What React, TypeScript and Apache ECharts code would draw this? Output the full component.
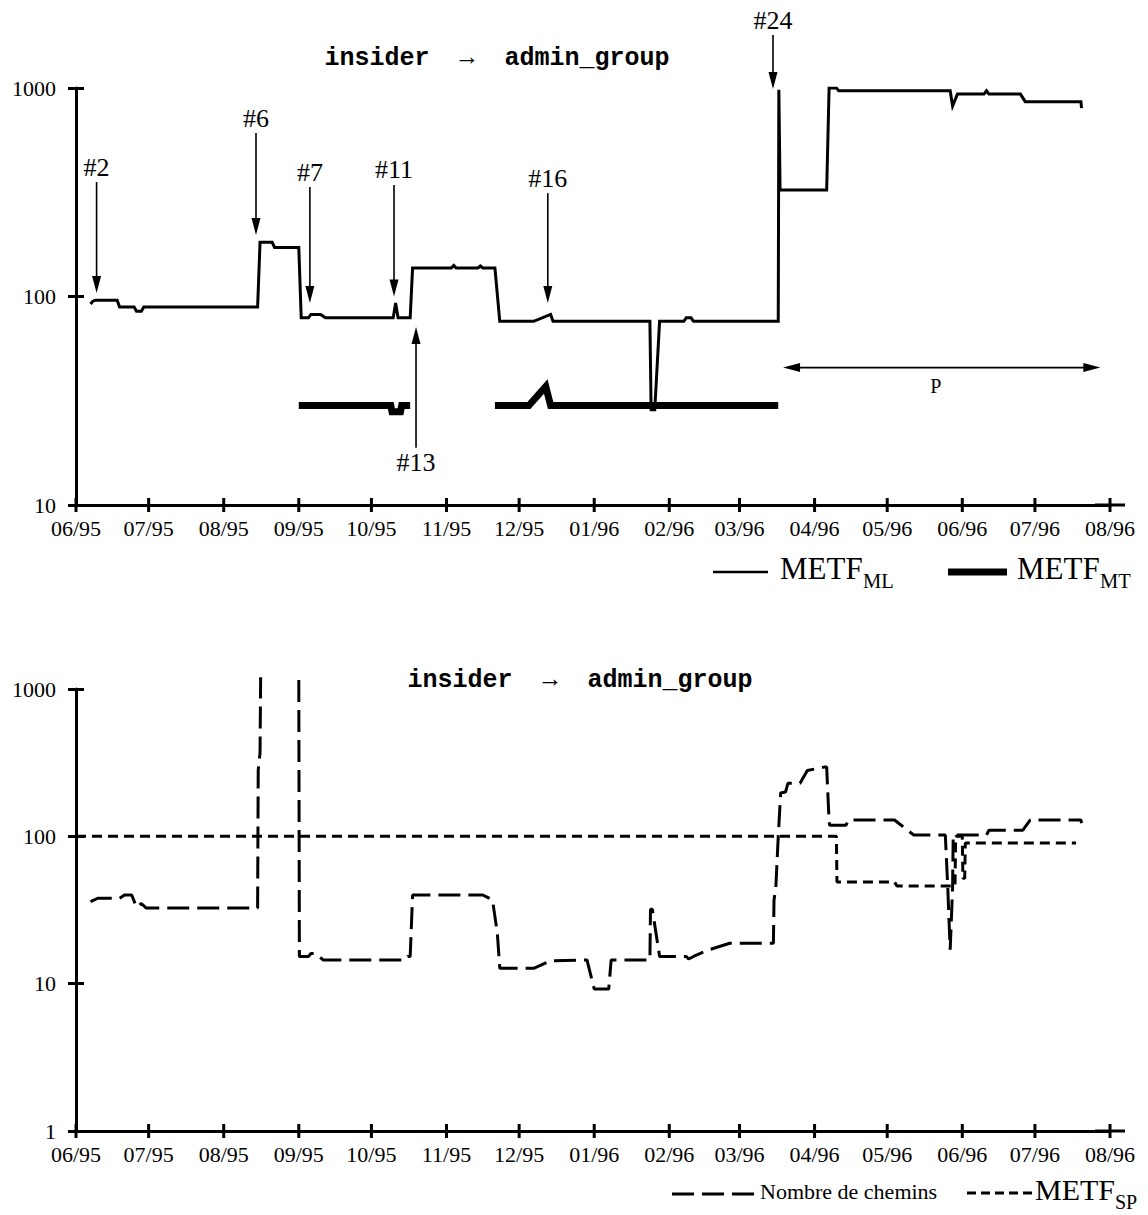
import React, { useEffect, useRef } from 'react';
import * as echarts from 'echarts';

// ---------- DATA ----------
const monthTicks = [
  '1995-06-01', '1995-07-01', '1995-08-01', '1995-09-01', '1995-10-01', '1995-11-01', '1995-12-01',
  '1996-01-01', '1996-02-01', '1996-03-01', '1996-04-01', '1996-05-01', '1996-06-01', '1996-07-01', '1996-08-01',
];

// Top panel: METF_ML (thin solid)
const metfML: [string, number][] = [
  ['1995-06-07', 92], ['1995-06-08', 95], ['1995-06-09', 96], ['1995-06-18', 96],
  ['1995-06-19', 89], ['1995-06-25', 89], ['1995-06-26', 85], ['1995-06-28', 85],
  ['1995-06-29', 89], ['1995-08-15', 89], ['1995-08-16', 182], ['1995-08-21', 182],
  ['1995-08-22', 172], ['1995-09-01', 172], ['1995-09-02', 79], ['1995-09-05', 79],
  ['1995-09-06', 82], ['1995-09-10', 82], ['1995-09-12', 79], ['1995-10-10', 79],
  ['1995-10-11', 93], ['1995-10-12', 79], ['1995-10-17', 79], ['1995-10-18', 137],
  ['1995-11-03', 137], ['1995-11-04', 141], ['1995-11-05', 137], ['1995-11-14', 137],
  ['1995-11-15', 140], ['1995-11-16', 137], ['1995-11-21', 137], ['1995-11-23', 76],
  ['1995-12-07', 76], ['1995-12-14', 82], ['1995-12-15', 76], ['1996-01-24', 76],
  ['1996-01-24 12:00', 28.6], ['1996-01-26', 28.6], ['1996-01-28', 76], ['1996-02-07', 76],
  ['1996-02-08', 79], ['1996-02-10', 79], ['1996-02-11', 76], ['1996-03-17', 76],
  ['1996-03-17 06:00', 980], ['1996-03-17 18:00', 324], ['1996-04-06', 324], ['1996-04-07', 1000],
  ['1996-04-10', 1000], ['1996-04-11', 970], ['1996-05-27', 970], ['1996-05-28', 820],
  ['1996-05-30', 935], ['1996-06-10', 935], ['1996-06-11', 970], ['1996-06-12', 935],
  ['1996-06-25', 935], ['1996-06-27', 860], ['1996-07-20', 860], ['1996-07-20 06:00', 800],
];

// Top panel: METF_MT (thick solid), '-' = gap
const metfMT: [string, number | string][] = [
  ['1995-09-01', 30], ['1995-10-09', 30], ['1995-10-09 12:00', 28], ['1995-10-13', 28],
  ['1995-10-13 12:00', 30], ['1995-10-17', 30], ['1995-10-25', '-'], ['1995-11-21', 30],
  ['1995-12-05', 30], ['1995-12-12', 37], ['1995-12-14', 30], ['1996-03-17', 30],
];

// Top panel annotations (arrows)
const annoLabels = ['#2', '#6', '#7', '#11', '#16', '#24', '#13'];
const annoDates = ['1995-06-09 12:00', '1995-08-14 08:00', '1995-09-05 14:00', '1995-10-10 08:00', '1995-12-12 20:00', '1996-03-14 20:00', '1995-10-19 10:00'];
const annoFrom = [354, 608, 335, 343, 313, 1795, 18.8];
const annoTo = [104, 197, 93, 100, 93, 990, 71.4];

// Period P
const periodLabel = ['P'];
const periodFrom = ['1996-03-19'];
const periodTo = ['1996-07-28'];
const periodLevel = [45.6];

// Bottom panel: Nombre de chemins (long dashes), '-' = gap (off chart)
const nbChemins: [string, number | string][] = [
  ['1995-06-07', 36], ['1995-06-10', 38], ['1995-06-19', 38], ['1995-06-21', 40],
  ['1995-06-24', 40], ['1995-06-26', 33], ['1995-06-28', 35], ['1995-06-30', 32.6],
  ['1995-08-15', 32.6], ['1995-08-15 06:00', 282], ['1995-08-16', 367], ['1995-08-16 06:00', 1200],
  ['1995-08-25', '-'], ['1995-09-01', 1150], ['1995-09-01 06:00', 15.3], ['1995-09-05', 15.3],
  ['1995-09-06', 16], ['1995-09-08', 16], ['1995-09-11', 14.5], ['1995-10-15', 14.5],
  ['1995-10-16', 15.3], ['1995-10-17', 15.3], ['1995-10-18', 40], ['1995-11-16', 40],
  ['1995-11-20', 37], ['1995-11-22', 22], ['1995-11-23', 12.7], ['1995-12-07', 12.7],
  ['1995-12-14', 14.3], ['1995-12-29', 14.5], ['1996-01-01', 9.2], ['1996-01-07', 9.2],
  ['1996-01-08', 14.5], ['1996-01-24', 14.5], ['1996-01-24 06:00', 32], ['1996-01-25', 32],
  ['1996-01-28', 15.3], ['1996-02-08', 15.3], ['1996-02-09', 14.7], ['1996-02-11', 15.3],
  ['1996-02-17', 16.9], ['1996-02-26', 18.8], ['1996-03-15', 18.8], ['1996-03-15 06:00', 37],
  ['1996-03-16', 45], ['1996-03-17', 100], ['1996-03-18', 197], ['1996-03-20', 200],
  ['1996-03-21', 229], ['1996-03-26', 229], ['1996-03-29', 280], ['1996-04-05', 295],
  ['1996-04-06', 295], ['1996-04-07', 125], ['1996-04-07 06:00', 119], ['1996-04-14', 119],
  ['1996-04-15', 129], ['1996-05-04', 129], ['1996-05-12', 102], ['1996-05-25', 102],
  ['1996-05-26', 45], ['1996-05-27', 17], ['1996-05-28', 45], ['1996-05-28 06:00', 102],
  ['1996-06-11', 102], ['1996-06-12', 110], ['1996-06-26', 110], ['1996-06-29', 129],
  ['1996-07-20', 129], ['1996-07-20 06:00', 123],
];

// Bottom panel: METF_SP (short dashes)
const metfSP: [string, number][] = [
  ['1995-06-01', 100], ['1996-04-10', 100], ['1996-04-10 06:00', 49], ['1996-05-04', 49],
  ['1996-05-05', 46], ['1996-05-29', 46], ['1996-05-29 06:00', 100], ['1996-06-01', 100],
  ['1996-06-01 06:00', 52], ['1996-06-02', 52], ['1996-06-02 06:00', 90], ['1996-07-18', 90],
];

const titleText = 'insider  \u2192  admin_group';

// ---------- CHART ----------
const SERIF = 'Liberation Serif';

function monthFmt(v: number) {
  const d = new Date(v);
  const m = d.getMonth() + 1;
  const y = d.getFullYear() % 100;
  return (m < 10 ? '0' : '') + m + '/' + (y < 10 ? '0' : '') + y;
}

function xAxis(gridIndex: number) {
  return {
    type: 'time',
    gridIndex,
    position: 'bottom',
    offset: 0,
    min: monthTicks[0],
    max: monthTicks[monthTicks.length - 1],
    splitNumber: 14,
    minInterval: 28 * 86400000,
    maxInterval: 31 * 86400000,
    splitLine: { show: false },
    minorTick: { show: false },
    axisLine: { show: true, lineStyle: { color: '#000', width: 3 }, symbol: ['none', 'rect'], symbolSize: [3, 30] },
    axisTick: { show: false },
    axisLabel: {
      show: true, margin: 12, color: '#000', fontFamily: SERIF, fontSize: 22,
      formatter: (v: number) => monthFmt(v), hideOverlap: false, showMinLabel: true, showMaxLabel: true,
    },
  };
}

function yAxes(gridIndex: number, min: number, max: number) {
  const base: any = {
    type: 'log', logBase: 10, gridIndex, min, max,
    position: 'left', offset: 0,
    splitLine: { show: false }, minorTick: { show: false }, minorSplitLine: { show: false },
  };
  return [
    {
      ...base,
      axisLine: { show: true, lineStyle: { color: '#000', width: 3 } },
      axisTick: { show: true, inside: false, length: 8, lineStyle: { color: '#000', width: 3 } },
      axisLabel: { show: true, margin: 20, color: '#000', fontFamily: SERIF, fontSize: 22, formatter: (v: number) => String(Math.round(v)) },
    },
    {
      ...base,
      axisLine: { show: false },
      axisTick: { show: true, inside: true, length: 8, lineStyle: { color: '#000', width: 3 } },
      axisLabel: { show: false },
    },
  ];
}

function tickSeries(xIdx: number, yIdx: number, yMin: number) {
  return {
    type: 'custom', xAxisIndex: xIdx, yAxisIndex: yIdx, clip: false, silent: true, z: 6,
    dimensions: [{ name: 'd', type: 'time' }, { name: 'v', type: 'float' }],
    encode: { x: 0, y: 1 },
    data: monthTicks.map((d) => [d, yMin]),
    renderItem: (params: any, api: any) => {
      const p = api.coord([api.value(0), api.value(1)]);
      return { type: 'line', shape: { x1: p[0], y1: p[1] - 7, x2: p[0], y2: p[1] + 7 }, style: { stroke: '#000', lineWidth: 3 } };
    },
  };
}

function arrowHead(tip: number[], ux: number, uy: number) {
  const hl = 17, hw = 4.5;
  const bx = tip[0] - ux * hl, by = tip[1] - uy * hl;
  return {
    type: 'polygon',
    shape: { points: [[tip[0], tip[1]], [bx - uy * hw, by + ux * hw], [bx + uy * hw, by - ux * hw]] },
    style: { fill: '#000' },
  };
}

export default function App() {
  const ref = useRef<HTMLDivElement>(null);
  useEffect(() => {
    if (!ref.current) return;
    const chart = echarts.init(ref.current, null, { renderer: 'svg' });
    const txt = (text: string, x: number, y: number, size: number, extra: any = {}) => ({
      type: 'text', x, y, silent: true,
      style: { text, fontFamily: SERIF, fontSize: size, fill: '#000', align: 'left', verticalAlign: 'middle', ...extra },
    });
    const option: any = {
      animation: false,
      backgroundColor: '#fff',
      grid: [
        { left: 76, right: 38, top: 88, height: 417 },
        { left: 76, right: 38, top: 689, height: 442 },
      ],
      xAxis: [xAxis(0), xAxis(1)],
      yAxis: [...yAxes(0, 10, 1000), ...yAxes(1, 1, 1000)],
      series: [
        {
          type: 'line', name: 'METF_ML', xAxisIndex: 0, yAxisIndex: 0, data: metfML,
          showSymbol: false, symbol: 'none', lineStyle: { color: '#000', width: 3, join: 'miter' }, z: 3,
        },
        {
          type: 'line', name: 'METF_MT', xAxisIndex: 0, yAxisIndex: 0, data: metfMT,
          showSymbol: false, symbol: 'none', connectNulls: false, lineStyle: { color: '#000', width: 7, join: 'miter', cap: 'butt' }, z: 2,
        },
        tickSeries(0, 0, 10),
        tickSeries(1, 2, 1),
        {
          type: 'custom', name: 'anno', xAxisIndex: 0, yAxisIndex: 0, clip: false, silent: true, z: 5,
          dimensions: [{ name: 'd', type: 'time' }, { name: 'from', type: 'float' }, { name: 'to', type: 'float' }],
          encode: { x: 0, y: [1, 2] },
          data: annoDates.map((d, i) => [d, annoFrom[i], annoTo[i]]),
          renderItem: (params: any, api: any) => {
            const i = params.dataIndex;
            const p1 = api.coord([api.value(0), api.value(1)]);
            const p2 = api.coord([api.value(0), api.value(2)]);
            const dx = p2[0] - p1[0], dy = p2[1] - p1[1];
            const len = Math.hypot(dx, dy) || 1;
            const ux = dx / len, uy = dy / len;
            const ly = uy > 0 ? p1[1] - 15 : p1[1] + 15;
            return {
              type: 'group',
              children: [
                { type: 'line', shape: { x1: p1[0], y1: p1[1], x2: p2[0] - ux * 10, y2: p2[1] - uy * 10 }, style: { stroke: '#000', lineWidth: 1.6 } },
                arrowHead(p2, ux, uy),
                { type: 'text', x: p1[0], y: ly, style: { text: annoLabels[i], fontFamily: SERIF, fontSize: 26, fill: '#000', align: 'center', verticalAlign: 'middle' } },
              ],
            };
          },
        },
        {
          type: 'custom', name: 'period', xAxisIndex: 0, yAxisIndex: 0, clip: false, silent: true, z: 5,
          dimensions: [{ name: 'a', type: 'time' }, { name: 'b', type: 'time' }, { name: 'v', type: 'float' }],
          encode: { x: [0, 1], y: 2 },
          data: periodFrom.map((d, i) => [d, periodTo[i], periodLevel[i]]),
          renderItem: (params: any, api: any) => {
            const i = params.dataIndex;
            const p1 = api.coord([api.value(0), api.value(2)]);
            const p2 = api.coord([api.value(1), api.value(2)]);
            return {
              type: 'group',
              children: [
                { type: 'line', shape: { x1: p1[0] + 10, y1: p1[1], x2: p2[0] - 10, y2: p2[1] }, style: { stroke: '#000', lineWidth: 1.6 } },
                arrowHead(p1, -1, 0),
                arrowHead(p2, 1, 0),
                { type: 'text', x: (p1[0] + p2[0]) / 2 - 6, y: p1[1] + 18, style: { text: periodLabel[i], fontFamily: SERIF, fontSize: 20, fill: '#000', align: 'center', verticalAlign: 'middle' } },
              ],
            };
          },
        },
        {
          type: 'line', name: 'Nombre de chemins', xAxisIndex: 1, yAxisIndex: 2, data: nbChemins, clip: false,
          showSymbol: false, symbol: 'none', connectNulls: false, lineStyle: { color: '#000', width: 3, type: [22, 8] }, z: 3,
        },
        {
          type: 'line', name: 'METF_SP', xAxisIndex: 1, yAxisIndex: 2, data: metfSP,
          showSymbol: false, symbol: 'none', lineStyle: { color: '#000', width: 3, type: [10, 6] }, z: 2,
        },
      ],
      graphic: [
        { type: 'text', x: 497, y: 58, silent: true, style: { text: titleText, fontFamily: 'Liberation Mono', fontWeight: 'bold', fontSize: 25, fill: '#000', align: 'center', verticalAlign: 'middle' } },
        { type: 'text', x: 580, y: 680, silent: true, style: { text: titleText, fontFamily: 'Liberation Mono', fontWeight: 'bold', fontSize: 25, fill: '#000', align: 'center', verticalAlign: 'middle' } },
        // top legend
        { type: 'line', silent: true, shape: { x1: 713, y1: 572, x2: 768, y2: 572 }, style: { stroke: '#000', lineWidth: 2.5 } },
        txt('METF', 780, 568.5, 31),
        txt('ML', 863, 581, 20.5),
        { type: 'line', silent: true, shape: { x1: 948, y1: 572, x2: 1007, y2: 572 }, style: { stroke: '#000', lineWidth: 7 } },
        txt('METF', 1017, 568.5, 31),
        txt('MT', 1100, 581, 20.5),
        // bottom legend
        { type: 'line', silent: true, shape: { x1: 672, y1: 1194, x2: 758, y2: 1194 }, style: { stroke: '#000', lineWidth: 3, lineDash: [22, 8] } },
        txt('Nombre de chemins', 760, 1191, 22),
        { type: 'line', silent: true, shape: { x1: 967, y1: 1193, x2: 1034, y2: 1193 }, style: { stroke: '#000', lineWidth: 3, lineDash: [9, 5] } },
        txt('METF', 1035, 1189, 30),
        txt('SP', 1115, 1202, 20),
      ],
    };
    chart.setOption(option);
    return () => chart.dispose();
  }, []);
  return (
    <div
      ref={ref}
      style={{ position: 'absolute', left: 0, top: 0, width: 1148, height: 1215, background: '#fff' }}
    />
  );
}
